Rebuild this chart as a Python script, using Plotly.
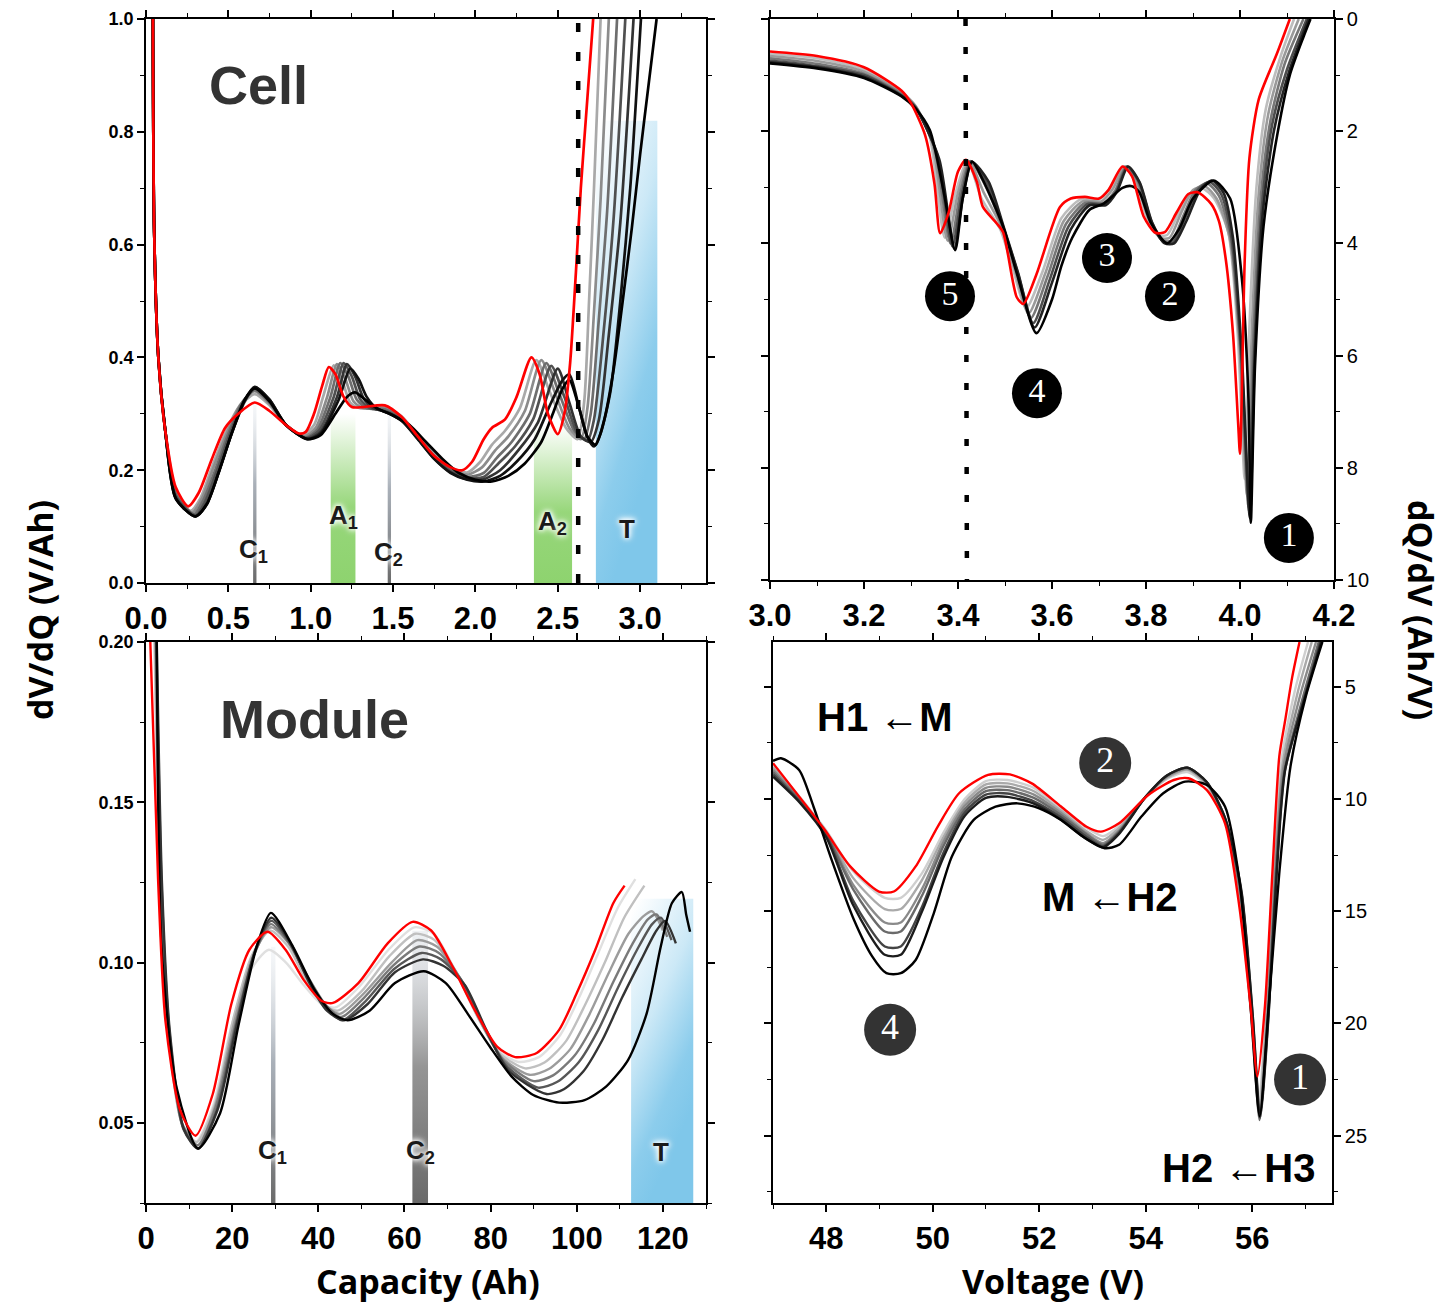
import base64
import plotly.graph_objects as go

W, H = 1445, 1304

# ---------------- Cell: dV/dQ vs capacity (Ah) ----------------
cell_cap_0 = [0.042, 0.05, 0.075, 0.117, 0.18, 0.256, 0.32, 0.4, 0.48, 0.56, 0.66, 0.75, 0.85, 0.93, 0.97, 1.02, 1.07, 1.11, 1.15, 1.2, 1.25, 1.32, 1.45, 1.55, 1.65, 1.75, 1.85, 1.92, 1.98, 2.05, 2.1, 2.18, 2.25, 2.34, 2.39, 2.44, 2.5, 2.54, 2.575, 2.61, 2.64, 2.68, 2.715]
cell_dvdq_0 = [1.0, 0.62, 0.4, 0.27, 0.17, 0.136, 0.16, 0.22, 0.275, 0.3, 0.32, 0.305, 0.28, 0.265, 0.268, 0.3, 0.35, 0.383, 0.37, 0.33, 0.312, 0.312, 0.315, 0.295, 0.26, 0.225, 0.205, 0.2, 0.215, 0.255, 0.275, 0.29, 0.33, 0.40, 0.37, 0.3, 0.264, 0.3, 0.39, 0.55, 0.70, 0.86, 1.0]
cell_cap_1 = [0.042, 0.05, 0.075, 0.117, 0.18, 0.27, 0.33, 0.4, 0.48, 0.56, 0.66, 0.75, 0.85, 0.95, 1.02, 1.08, 1.14, 1.19, 1.24, 1.3, 1.45, 1.55, 1.65, 1.75, 1.85, 1.95, 2.03, 2.1, 2.18, 2.27, 2.37, 2.45, 2.55, 2.62, 2.66, 2.69, 2.72, 2.76]
cell_dvdq_1 = [1.0, 0.62, 0.4, 0.27, 0.165, 0.128, 0.15, 0.205, 0.265, 0.31, 0.335, 0.315, 0.28, 0.262, 0.28, 0.335, 0.386, 0.36, 0.32, 0.31, 0.312, 0.296, 0.262, 0.228, 0.205, 0.196, 0.215, 0.245, 0.27, 0.31, 0.395, 0.34, 0.275, 0.255, 0.32, 0.5, 0.7, 1.0]
cell_cap_2 = [0.042, 0.05, 0.075, 0.117, 0.18, 0.28, 0.34, 0.41, 0.49, 0.57, 0.66, 0.75, 0.85, 0.96, 1.03, 1.1, 1.16, 1.21, 1.26, 1.32, 1.45, 1.55, 1.65, 1.75, 1.85, 1.95, 2.04, 2.12, 2.2, 2.3, 2.4, 2.48, 2.57, 2.64, 2.68, 2.72, 2.76, 2.81]
cell_dvdq_2 = [1.0, 0.62, 0.4, 0.27, 0.16, 0.125, 0.15, 0.205, 0.265, 0.315, 0.34, 0.318, 0.28, 0.26, 0.275, 0.33, 0.388, 0.362, 0.322, 0.31, 0.31, 0.294, 0.26, 0.226, 0.203, 0.192, 0.205, 0.235, 0.26, 0.305, 0.395, 0.34, 0.275, 0.255, 0.31, 0.48, 0.68, 1.0]
cell_cap_3 = [0.042, 0.05, 0.075, 0.117, 0.18, 0.29, 0.35, 0.42, 0.5, 0.58, 0.66, 0.75, 0.85, 0.97, 1.04, 1.12, 1.18, 1.23, 1.28, 1.34, 1.45, 1.55, 1.65, 1.75, 1.85, 1.95, 2.05, 2.13, 2.22, 2.33, 2.43, 2.51, 2.6, 2.66, 2.7, 2.75, 2.8, 2.86]
cell_dvdq_3 = [1.0, 0.62, 0.4, 0.27, 0.158, 0.122, 0.148, 0.2, 0.265, 0.318, 0.342, 0.32, 0.28, 0.258, 0.272, 0.33, 0.39, 0.365, 0.325, 0.31, 0.308, 0.292, 0.258, 0.224, 0.2, 0.188, 0.195, 0.222, 0.25, 0.3, 0.39, 0.335, 0.27, 0.255, 0.3, 0.47, 0.66, 1.0]
cell_cap_4 = [0.042, 0.05, 0.075, 0.117, 0.18, 0.3, 0.36, 0.43, 0.51, 0.59, 0.66, 0.75, 0.85, 0.97, 1.05, 1.14, 1.2, 1.25, 1.3, 1.36, 1.45, 1.55, 1.65, 1.75, 1.85, 1.95, 2.05, 2.14, 2.24, 2.35, 2.46, 2.54, 2.62, 2.68, 2.72, 2.78, 2.84, 2.91]
cell_dvdq_4 = [1.0, 0.62, 0.4, 0.27, 0.155, 0.12, 0.145, 0.198, 0.265, 0.32, 0.345, 0.322, 0.28, 0.257, 0.27, 0.33, 0.39, 0.366, 0.326, 0.31, 0.305, 0.29, 0.257, 0.222, 0.198, 0.186, 0.188, 0.212, 0.242, 0.29, 0.385, 0.33, 0.265, 0.252, 0.29, 0.45, 0.65, 1.0]
cell_cap_5 = [0.042, 0.05, 0.075, 0.117, 0.18, 0.3, 0.37, 0.44, 0.52, 0.6, 0.66, 0.75, 0.85, 0.98, 1.06, 1.16, 1.22, 1.27, 1.32, 1.38, 1.46, 1.55, 1.65, 1.75, 1.85, 1.95, 2.05, 2.15, 2.26, 2.38, 2.5, 2.57, 2.64, 2.7, 2.75, 2.81, 2.88, 2.96]
cell_dvdq_5 = [1.0, 0.62, 0.4, 0.27, 0.152, 0.118, 0.142, 0.195, 0.265, 0.322, 0.347, 0.325, 0.28, 0.256, 0.268, 0.33, 0.388, 0.366, 0.328, 0.31, 0.303, 0.288, 0.256, 0.22, 0.196, 0.184, 0.184, 0.2, 0.235, 0.285, 0.38, 0.32, 0.26, 0.25, 0.29, 0.44, 0.64, 1.0]
cell_cap_6 = [0.042, 0.05, 0.075, 0.117, 0.18, 0.3, 0.37, 0.44, 0.52, 0.6, 0.66, 0.75, 0.85, 0.98, 1.06, 1.17, 1.24, 1.29, 1.34, 1.4, 1.48, 1.56, 1.65, 1.75, 1.85, 1.95, 2.05, 2.15, 2.25, 2.36, 2.46, 2.53, 2.57, 2.63, 2.68, 2.72, 2.76, 2.82, 2.88, 2.94, 3.005]
cell_dvdq_6 = [1.0, 0.62, 0.4, 0.27, 0.15, 0.118, 0.14, 0.195, 0.265, 0.325, 0.348, 0.325, 0.28, 0.255, 0.265, 0.325, 0.38, 0.362, 0.33, 0.31, 0.3, 0.286, 0.255, 0.22, 0.195, 0.183, 0.18, 0.19, 0.215, 0.255, 0.32, 0.36, 0.37, 0.31, 0.258, 0.242, 0.265, 0.34, 0.5, 0.7, 1.0]
cell_cap_7 = [0.042, 0.05, 0.075, 0.117, 0.18, 0.3, 0.37, 0.44, 0.52, 0.6, 0.66, 0.75, 0.85, 0.98, 1.06, 1.15, 1.22, 1.27, 1.33, 1.4, 1.5, 1.6, 1.7, 1.8, 1.9, 2.0, 2.1, 2.2, 2.3, 2.4, 2.47, 2.53, 2.57, 2.63, 2.68, 2.73, 2.78, 2.84, 2.89, 2.95, 3.0, 3.05, 3.10]
cell_dvdq_7 = [1.0, 0.62, 0.4, 0.27, 0.15, 0.118, 0.14, 0.195, 0.265, 0.325, 0.345, 0.322, 0.28, 0.255, 0.262, 0.3, 0.33, 0.338, 0.325, 0.31, 0.297, 0.28, 0.25, 0.22, 0.195, 0.183, 0.18, 0.19, 0.212, 0.25, 0.3, 0.345, 0.36, 0.31, 0.26, 0.245, 0.287, 0.38, 0.49, 0.63, 0.76, 0.88, 1.0]

# ---------------- Cell: dQ/dV vs voltage (V) ----------------
cell_volt_0 = [3.0, 3.1, 3.2, 3.28, 3.3, 3.33, 3.35, 3.362, 3.38, 3.40, 3.417, 3.44, 3.453, 3.482, 3.496, 3.525, 3.539, 3.567, 3.617, 3.64, 3.67, 3.70, 3.72, 3.75, 3.77, 3.795, 3.82, 3.84, 3.865, 3.89, 3.91, 3.939, 3.955, 3.97, 3.985, 3.996, 4.0, 4.01, 4.02, 4.04, 4.078, 4.106]
cell_dqdv_0 = [0.58, 0.66, 0.86, 1.28, 1.5, 2.07, 2.94, 3.82, 3.45, 2.72, 2.51, 2.9, 3.35, 3.64, 3.8, 4.96, 5.08, 4.55, 3.35, 3.2, 3.17, 3.2, 3.05, 2.63, 2.8, 3.52, 3.81, 3.8, 3.45, 3.12, 3.09, 3.3, 3.6, 4.3, 5.6, 7.2, 7.75, 4.31, 2.48, 1.43, 0.63, 0.0]
cell_volt_1 = [3.0, 3.1, 3.2, 3.28, 3.31, 3.34, 3.372, 3.395, 3.42, 3.45, 3.49, 3.515, 3.545, 3.58, 3.62, 3.66, 3.70, 3.725, 3.752, 3.775, 3.80, 3.825, 3.845, 3.87, 3.895, 3.92, 3.945, 3.975, 3.995, 4.01, 4.02, 4.035, 4.055, 4.085, 4.115]
cell_dqdv_1 = [0.62, 0.7, 0.9, 1.3, 1.55, 2.1, 3.9, 3.1, 2.52, 3.2, 3.75, 4.4, 5.15, 4.5, 3.55, 3.22, 3.22, 3.0, 2.63, 2.85, 3.5, 3.85, 3.85, 3.45, 3.1, 3.02, 3.2, 3.8, 5.6, 8.2, 5.5, 3.0, 1.6, 0.7, 0.0]
cell_volt_2 = [3.0, 3.1, 3.2, 3.28, 3.31, 3.345, 3.378, 3.40, 3.423, 3.455, 3.492, 3.52, 3.55, 3.585, 3.625, 3.665, 3.705, 3.73, 3.755, 3.778, 3.805, 3.83, 3.85, 3.875, 3.9, 3.925, 3.95, 3.978, 3.998, 4.015, 4.025, 4.04, 4.06, 4.09, 4.125]
cell_dqdv_2 = [0.66, 0.75, 0.94, 1.32, 1.56, 2.2, 3.95, 3.1, 2.53, 3.1, 3.7, 4.45, 5.25, 4.55, 3.6, 3.25, 3.25, 3.02, 2.63, 2.86, 3.55, 3.9, 3.9, 3.45, 3.05, 2.98, 3.2, 3.9, 5.7, 8.5, 5.6, 3.1, 1.7, 0.75, 0.0]
cell_volt_3 = [3.0, 3.1, 3.2, 3.28, 3.31, 3.35, 3.384, 3.405, 3.426, 3.46, 3.494, 3.525, 3.555, 3.59, 3.63, 3.67, 3.71, 3.735, 3.758, 3.782, 3.81, 3.835, 3.855, 3.88, 3.905, 3.93, 3.955, 3.98, 4.0, 4.018, 4.028, 4.044, 4.065, 4.095, 4.135]
cell_dqdv_3 = [0.7, 0.8, 0.98, 1.34, 1.57, 2.3, 4.0, 3.1, 2.53, 3.0, 3.7, 4.5, 5.33, 4.6, 3.65, 3.28, 3.28, 3.05, 2.63, 2.88, 3.6, 3.95, 3.95, 3.5, 3.05, 2.93, 3.15, 3.9, 5.8, 8.7, 5.8, 3.2, 1.8, 0.8, 0.0]
cell_volt_4 = [3.0, 3.1, 3.2, 3.28, 3.31, 3.355, 3.388, 3.408, 3.428, 3.463, 3.496, 3.527, 3.56, 3.595, 3.635, 3.675, 3.712, 3.737, 3.76, 3.785, 3.812, 3.838, 3.858, 3.883, 3.91, 3.935, 3.96, 3.982, 4.002, 4.02, 4.03, 4.046, 4.068, 4.1, 4.142]
cell_dqdv_4 = [0.74, 0.84, 1.0, 1.36, 1.58, 2.4, 4.05, 3.15, 2.54, 2.95, 3.7, 4.52, 5.42, 4.65, 3.7, 3.3, 3.3, 3.07, 2.63, 2.9, 3.62, 3.98, 3.98, 3.55, 3.05, 2.9, 3.12, 3.9, 5.9, 8.8, 6.0, 3.4, 1.9, 0.9, 0.0]
cell_volt_5 = [3.0, 3.1, 3.2, 3.28, 3.31, 3.36, 3.392, 3.41, 3.43, 3.465, 3.497, 3.528, 3.563, 3.6, 3.64, 3.68, 3.714, 3.738, 3.762, 3.787, 3.813, 3.84, 3.86, 3.886, 3.915, 3.94, 3.965, 3.985, 4.004, 4.021, 4.031, 4.048, 4.072, 4.104, 4.146]
cell_dqdv_5 = [0.77, 0.86, 1.03, 1.37, 1.59, 2.5, 4.1, 3.2, 2.55, 2.9, 3.7, 4.53, 5.5, 4.7, 3.75, 3.32, 3.32, 3.08, 2.63, 2.92, 3.63, 4.0, 4.0, 3.6, 3.05, 2.88, 3.1, 3.9, 6.0, 8.9, 6.1, 3.5, 2.0, 0.95, 0.0]
cell_volt_6 = [3.0, 3.1, 3.2, 3.28, 3.31, 3.34, 3.37, 3.394, 3.41, 3.43, 3.453, 3.496, 3.525, 3.567, 3.6, 3.62, 3.643, 3.68, 3.71, 3.75, 3.77, 3.786, 3.81, 3.845, 3.87, 3.9, 3.944, 3.979, 4.004, 4.018, 4.023, 4.032, 4.05, 4.08, 4.106, 4.135, 4.15]
cell_dqdv_6 = [0.79, 0.88, 1.05, 1.38, 1.6, 1.98, 3.1, 4.12, 3.2, 2.54, 2.87, 3.7, 4.53, 5.6, 5.0, 4.4, 3.9, 3.4, 3.29, 3.01, 2.98, 3.09, 3.63, 4.0, 3.75, 3.2, 2.88, 3.2, 4.63, 6.77, 8.98, 6.17, 3.7, 2.03, 1.0, 0.32, 0.0]

# ---------------- Module: dV/dQ vs capacity (Ah) ----------------
mod_cap_0 = [1.0, 2.8, 4.5, 7.9, 11.5, 15.5, 19.8, 24.0, 28.2, 32.4, 36.6, 40.8, 43.4, 49.3, 56.1, 61.9, 66.2, 71.2, 76.4, 81.5, 85.7, 90.7, 95.9, 100, 104.3, 108.5, 111.1]
mod_dvdq_0 = [0.2, 0.126, 0.082, 0.054, 0.046, 0.059, 0.087, 0.104, 0.1096, 0.104, 0.0946, 0.088, 0.0874, 0.0936, 0.106, 0.1127, 0.110, 0.0987, 0.085, 0.0738, 0.0705, 0.0718, 0.079, 0.0905, 0.104, 0.1186, 0.124]
mod_cap_1 = [2.0, 3.2, 5.0, 8.3, 11.5, 15.5, 19.8, 24.0, 28.5, 32.5, 36.6, 40.8, 44.0, 49.5, 56.3, 62.3, 66.8, 71.6, 76.6, 81.6, 86.5, 91.2, 96.2, 100.5, 105, 109.5, 113.6]
mod_dvdq_1 = [0.2, 0.125, 0.08, 0.05, 0.044, 0.055, 0.08, 0.097, 0.104, 0.1, 0.093, 0.087, 0.086, 0.0925, 0.104, 0.111, 0.109, 0.098, 0.084, 0.0728, 0.069, 0.0705, 0.0775, 0.089, 0.103, 0.117, 0.126]
mod_cap_2 = [2.0, 3.2, 5.0, 8.3, 11.8, 16, 20.2, 24.5, 28.8, 33, 37, 41, 44.5, 50, 56.5, 62.5, 67, 72, 77, 82, 88, 92.5, 97.5, 102, 106.5, 111, 115.7]
mod_dvdq_2 = [0.2, 0.125, 0.08, 0.05, 0.044, 0.056, 0.082, 0.102, 0.11, 0.105, 0.095, 0.087, 0.085, 0.091, 0.102, 0.109, 0.107, 0.097, 0.083, 0.0718, 0.067, 0.0688, 0.0755, 0.087, 0.1, 0.114, 0.124]
mod_cap_3 = [2.2, 3.4, 5.2, 8.5, 12, 16, 20.4, 24.8, 29, 33.2, 37.2, 41.4, 45, 50.3, 57, 63, 67.5, 72.5, 77.5, 82.5, 89, 93.5, 98.5, 103, 107.5, 112, 115.5, 117.5, 120]
mod_dvdq_3 = [0.2, 0.125, 0.079, 0.049, 0.043, 0.055, 0.081, 0.102, 0.111, 0.106, 0.096, 0.087, 0.084, 0.09, 0.1, 0.107, 0.105, 0.096, 0.082, 0.0705, 0.065, 0.0668, 0.073, 0.084, 0.097, 0.109, 0.1145, 0.116, 0.11]
mod_cap_4 = [2.3, 3.5, 5.3, 8.6, 12, 16.2, 20.6, 25, 29, 33.2, 37.4, 41.6, 45.3, 50.6, 57.3, 63.5, 68, 73, 78, 83, 90, 94.5, 99.5, 104, 108.5, 113, 116.5, 118.5, 121]
mod_dvdq_4 = [0.2, 0.125, 0.079, 0.049, 0.043, 0.055, 0.08, 0.102, 0.112, 0.106, 0.096, 0.087, 0.083, 0.089, 0.099, 0.105, 0.103, 0.095, 0.081, 0.0695, 0.063, 0.0648, 0.071, 0.081, 0.094, 0.106, 0.1135, 0.115, 0.108]
mod_cap_5 = [2.4, 3.6, 5.4, 8.7, 12.1, 16.4, 20.8, 25.2, 29.1, 33.4, 37.6, 41.8, 45.6, 51, 57.6, 64, 68.5, 73.5, 78.5, 83.5, 91, 95.5, 100.5, 105, 109.5, 114, 117.5, 119.5, 122]
mod_dvdq_5 = [0.2, 0.125, 0.079, 0.048, 0.042, 0.054, 0.08, 0.103, 0.113, 0.106, 0.095, 0.086, 0.082, 0.088, 0.098, 0.103, 0.101, 0.094, 0.08, 0.068, 0.061, 0.0628, 0.069, 0.079, 0.092, 0.104, 0.112, 0.114, 0.107]
mod_cap_6 = [2.5, 3.7, 5.5, 8.8, 12.1, 16.6, 21, 25.4, 29.1, 33.6, 37.8, 42, 46, 51.4, 57.8, 64.3, 69, 74, 79, 84, 93, 97, 101.5, 106, 110.5, 115, 118.5, 120.5, 123]
mod_dvdq_6 = [0.2, 0.125, 0.079, 0.048, 0.042, 0.054, 0.08, 0.104, 0.114, 0.106, 0.094, 0.085, 0.082, 0.087, 0.097, 0.101, 0.099, 0.093, 0.079, 0.0665, 0.059, 0.0605, 0.066, 0.076, 0.089, 0.101, 0.11, 0.113, 0.106]
mod_cap_7 = [2.5, 3.7, 7.1, 12.1, 17.2, 21.4, 25.7, 29.0, 34.1, 39.2, 43.4, 46.8, 51.9, 57.8, 64.5, 69.6, 74.7, 79.8, 84.9, 89.9, 95.9, 101.8, 106.8, 111.9, 116.2, 119.5, 122.1, 124.4, 125.4, 126.3]
mod_dvdq_7 = [0.2, 0.103, 0.061, 0.042, 0.053, 0.080, 0.105, 0.1155, 0.105, 0.0914, 0.084, 0.082, 0.085, 0.0936, 0.0973, 0.0936, 0.084, 0.0738, 0.0644, 0.0587, 0.0563, 0.0571, 0.0613, 0.0696, 0.084, 0.105, 0.1186, 0.122, 0.115, 0.1096]

# ---------------- Module: dQ/dV vs voltage (V) ----------------
mod_volt_0 = [47.0, 47.97, 48.45, 48.99, 49.27, 49.68, 50.1, 50.5, 51.04, 51.45, 51.86, 52.41, 52.89, 53.16, 53.5, 54.05, 54.53, 54.8, 55.15, 55.49, 55.76, 55.97, 56.1, 56.24, 56.38, 56.51, 56.62, 56.75, 56.89]
mod_dqdv_0 = [8.4, 11.37, 13.0, 14.12, 14.12, 13.0, 11.2, 9.73, 8.92, 8.9, 9.3, 10.33, 11.23, 11.45, 11.08, 9.82, 9.15, 9.07, 9.6, 11.08, 14.8, 19.24, 22.36, 19.24, 13.3, 8.1, 6.5, 4.6, 3.0]
mod_volt_1 = [47.0, 47.5, 48.0, 48.5, 49.1, 49.4, 49.8, 50.2, 50.6, 51.0, 51.4, 51.9, 52.4, 52.9, 53.2, 53.5, 54.0, 54.4, 54.78, 55.15, 55.5, 55.77, 55.98, 56.12, 56.27, 56.4, 56.55, 56.8, 57.05]
mod_dqdv_1 = [8.5, 9.9, 11.4, 13.2, 14.4, 14.4, 13.3, 11.5, 10.0, 9.2, 9.15, 9.5, 10.4, 11.3, 11.65, 11.2, 9.9, 9.1, 8.8, 9.4, 11.0, 14.6, 19.6, 23.5, 19.0, 13.0, 8.3, 5.2, 3.0]
mod_volt_2 = [47.0, 47.5, 48.0, 48.5, 49.1, 49.4, 49.8, 50.2, 50.6, 51.0, 51.4, 51.9, 52.4, 52.9, 53.2, 53.5, 54.0, 54.4, 54.78, 55.15, 55.5, 55.78, 55.99, 56.13, 56.28, 56.42, 56.57, 56.85, 57.12]
mod_dqdv_2 = [8.6, 9.95, 11.45, 13.5, 14.9, 14.9, 13.6, 11.7, 10.15, 9.35, 9.3, 9.65, 10.5, 11.45, 11.82, 11.3, 9.9, 9.05, 8.7, 9.35, 11.0, 14.6, 19.7, 23.8, 19.2, 13.2, 8.5, 5.3, 3.0]
mod_volt_3 = [47.0, 47.5, 48.0, 48.5, 49.1, 49.4, 49.8, 50.2, 50.6, 51.0, 51.4, 51.9, 52.4, 52.9, 53.2, 53.5, 54.0, 54.4, 54.78, 55.15, 55.5, 55.79, 56.0, 56.14, 56.29, 56.43, 56.58, 56.9, 57.2]
mod_dqdv_3 = [8.7, 10.0, 11.5, 13.8, 15.5, 15.5, 14.0, 11.9, 10.3, 9.5, 9.45, 9.8, 10.6, 11.55, 11.97, 11.4, 9.9, 9.0, 8.65, 9.3, 11.0, 14.5, 19.8, 24.1, 19.5, 13.4, 8.7, 5.4, 3.0]
mod_volt_4 = [47.0, 47.5, 48.0, 48.5, 49.1, 49.4, 49.8, 50.2, 50.6, 51.0, 51.4, 51.9, 52.4, 52.9, 53.2, 53.5, 54.0, 54.4, 54.78, 55.15, 55.5, 55.8, 56.0, 56.14, 56.3, 56.44, 56.6, 56.95, 57.25]
mod_dqdv_4 = [8.8, 10.05, 11.55, 14.0, 15.9, 15.9, 14.3, 12.1, 10.45, 9.65, 9.6, 9.95, 10.7, 11.6, 12.04, 11.45, 9.9, 8.95, 8.6, 9.25, 11.0, 14.4, 19.8, 24.3, 19.6, 13.5, 8.8, 5.5, 3.0]
mod_volt_5 = [47.0, 47.5, 48.0, 48.5, 49.1, 49.4, 49.8, 50.2, 50.6, 51.0, 51.4, 51.9, 52.4, 52.9, 53.2, 53.5, 54.0, 54.4, 54.78, 55.15, 55.5, 55.8, 56.01, 56.15, 56.31, 56.45, 56.61, 56.98, 57.28]
mod_dqdv_5 = [8.9, 10.1, 11.6, 14.5, 16.57, 16.57, 14.8, 12.4, 10.6, 9.8, 9.75, 10.1, 10.8, 11.7, 12.1, 11.5, 9.9, 8.95, 8.6, 9.25, 10.9, 14.2, 19.7, 24.2, 19.6, 13.5, 8.8, 5.5, 3.0]
mod_volt_6 = [47.0, 47.5, 48.0, 48.5, 49.1, 49.4, 49.8, 50.2, 50.6, 51.0, 51.4, 51.9, 52.4, 52.9, 53.2, 53.5, 54.0, 54.4, 54.78, 55.15, 55.5, 55.8, 56.01, 56.15, 56.31, 56.46, 56.62, 57.0, 57.3]
mod_dqdv_6 = [9.0, 10.15, 11.7, 14.7, 16.94, 16.94, 15.0, 12.6, 10.75, 9.95, 9.9, 10.2, 10.9, 11.8, 12.15, 11.55, 9.9, 8.95, 8.6, 9.25, 10.9, 14.1, 19.6, 24.0, 19.5, 13.4, 8.7, 5.4, 3.0]
mod_volt_7 = [47.0, 47.15, 47.49, 47.76, 48.1, 48.52, 48.86, 49.13, 49.4, 49.68, 50.02, 50.36, 50.77, 51.18, 51.59, 52.0, 52.41, 52.82, 53.23, 53.5, 53.92, 54.33, 54.74, 55.15, 55.49, 55.76, 55.97, 56.14, 56.31, 56.51, 56.72, 57.0, 57.32]
mod_dqdv_7 = [8.3, 8.18, 8.7, 10.33, 12.7, 15.38, 17.0, 17.76, 17.76, 17.17, 15.09, 12.56, 10.93, 10.34, 10.19, 10.41, 10.93, 11.67, 12.19, 12.04, 10.78, 9.74, 9.22, 9.37, 10.33, 13.6, 19.24, 24.14, 19.24, 13.3, 8.55, 5.5, 3.0]

# cycle colours: index 0 is the first cycle (red), the rest fade from grey to black
cell_dvdq_colors = ["#ff0000", "#a9a9a9", "#8c8c8c", "#6e6e6e", "#505050", "#333333", "#111111", "#000000"]
cell_dqdv_colors = ["#ff0000", "#bdbdbd", "#9a9a9a", "#777777", "#4d4d4d", "#222222", "#000000"]
mod_dvdq_colors = ["#ff0000", "#e0e0e0", "#c0c0c0", "#9c9c9c", "#7a7a7a", "#575757", "#333333", "#000000"]
mod_dqdv_colors = ["#ff0000", "#cfcfcf", "#aaaaaa", "#8a8a8a", "#6a6a6a", "#444444", "#1c1c1c", "#000000"]

# peak markers
cell_peak_labels = ["5", "4", "3", "2", "1"]
cell_peak_volt = [3.383, 3.568, 3.717, 3.851, 4.104]
cell_peak_dqdv = [4.94, 6.67, 4.26, 4.94, 9.25]
mod_peak_labels = ["2", "4", "1"]
mod_peak_volt = [53.24, 49.2, 56.9]
mod_peak_dqdv = [8.39, 20.28, 22.5]

SANS = "Liberation Sans, Arial, sans-serif"
TITLE = "Open Sans, Liberation Sans, sans-serif"
SERIF = "Liberation Serif, DejaVu Serif, serif"
HALO = "0px 0px 4px #ffffff, 0px 0px 6px #ffffff, 0px 0px 8px #ffffff"


def xdom(a, b):
    return [a / W, b / W]


def ydom(a, b):
    return [1 - b / H, 1 - a / H]


def curves(fig, xs, ys, colors, xa, ya, width):
    # draw the later cycles first so the red first cycle sits on top
    order = list(range(1, len(xs))) + [0]
    for i in order:
        fig.add_trace(go.Scatter(
            x=xs[i], y=ys[i], mode="lines", xaxis=xa, yaxis=ya,
            line=dict(color=colors[i], width=width, shape="spline", smoothing=0.7),
            hoverinfo="skip", showlegend=False))


def grad(stops, x1=0, y1=1, x2=0, y2=0):
    st = "".join(
        f'<stop offset="{o}" stop-color="{c}" stop-opacity="{a}"/>' for o, c, a in stops)
    svg = ('<svg xmlns="http://www.w3.org/2000/svg" width="100" height="100" '
           'viewBox="0 0 100 100" preserveAspectRatio="none"><defs>'
           f'<linearGradient id="g" x1="{x1}" y1="{y1}" x2="{x2}" y2="{y2}">{st}</linearGradient>'
           '</defs><rect width="100" height="100" fill="url(#g)"/></svg>')
    return "data:image/svg+xml;base64," + base64.b64encode(svg.encode()).decode()


def band(xref, yref, x0, x1, y0, y1, src):
    return dict(source=src, xref=xref, yref=yref, x=x0, y=y1, sizex=x1 - x0,
                sizey=y1 - y0, sizing="stretch", xanchor="left", yanchor="top",
                layer="below")


GREEN = "#8ed36f"
BLUE = "#7fc7ea"
green_src = grad([(0, GREEN, 1), (0.45, GREEN, 0.92), (1, GREEN, 0)])
blue_src = grad([(0, BLUE, 0), (0.45, BLUE, 0.4), (0.8, BLUE, 0.9), (1, BLUE, 1)],
                x1=0.1, y1=0, x2=0.5, y2=0.9)
cline_src = grad([(0, "#6a6a6a", 1), (0.55, "#9aa2ac", 0.85), (1, "#e3e9ef", 0.3)])
cband_src = grad([(0, "#6a6a6a", 1), (0.5, "#959595", 1), (1, "#dfe4ea", 0.5)])

fig = go.Figure()

curves(fig, [cell_cap_0, cell_cap_1, cell_cap_2, cell_cap_3, cell_cap_4, cell_cap_5, cell_cap_6, cell_cap_7],
       [cell_dvdq_0, cell_dvdq_1, cell_dvdq_2, cell_dvdq_3, cell_dvdq_4, cell_dvdq_5, cell_dvdq_6, cell_dvdq_7],
       cell_dvdq_colors, "x", "y", 2.7)
curves(fig, [cell_volt_0, cell_volt_1, cell_volt_2, cell_volt_3, cell_volt_4, cell_volt_5, cell_volt_6],
       [cell_dqdv_0, cell_dqdv_1, cell_dqdv_2, cell_dqdv_3, cell_dqdv_4, cell_dqdv_5, cell_dqdv_6],
       cell_dqdv_colors, "x2", "y2", 2.6)
curves(fig, [mod_cap_0, mod_cap_1, mod_cap_2, mod_cap_3, mod_cap_4, mod_cap_5, mod_cap_6, mod_cap_7],
       [mod_dvdq_0, mod_dvdq_1, mod_dvdq_2, mod_dvdq_3, mod_dvdq_4, mod_dvdq_5, mod_dvdq_6, mod_dvdq_7],
       mod_dvdq_colors, "x3", "y3", 2.4)
curves(fig, [mod_volt_0, mod_volt_1, mod_volt_2, mod_volt_3, mod_volt_4, mod_volt_5, mod_volt_6, mod_volt_7],
       [mod_dqdv_0, mod_dqdv_1, mod_dqdv_2, mod_dqdv_3, mod_dqdv_4, mod_dqdv_5, mod_dqdv_6, mod_dqdv_7],
       mod_dqdv_colors, "x4", "y4", 2.4)

# numbered peak markers
fig.add_trace(go.Scatter(
    x=cell_peak_volt, y=cell_peak_dqdv, xaxis="x2", yaxis="y2", mode="markers+text",
    text=cell_peak_labels, textposition="middle center",
    marker=dict(size=50, color="#000000"),
    textfont=dict(family=SERIF, size=34, color="white"),
    hoverinfo="skip", showlegend=False))
fig.add_trace(go.Scatter(
    x=mod_peak_volt, y=mod_peak_dqdv, xaxis="x4", yaxis="y4", mode="markers+text",
    text=mod_peak_labels, textposition="middle center",
    marker=dict(size=52, color="#333333"),
    textfont=dict(family=SERIF, size=36, color="white"),
    hoverinfo="skip", showlegend=False))


def axis(domain, anchor, rng, dtick, minor, font, **kw):
    d = dict(domain=domain, anchor=anchor, range=rng, dtick=dtick, automargin=False,
             showline=True, linecolor="black", linewidth=1.6, mirror="allticks",
             ticks="outside", ticklen=7, tickwidth=1.6, tickcolor="black",
             showgrid=False, zeroline=False, tickfont=font,
             minor=dict(dtick=minor, ticks="outside", ticklen=4, tickwidth=1.3,
                        tickcolor="black", showgrid=False))
    d.update(kw)
    return d


xfont = dict(family=SANS, size=31, color="black", weight="bold")
yfont_b = dict(family=SANS, size=18, color="black", weight="bold")
yfont_r = dict(family=SANS, size=20, color="black")

ann = []


def label(xr, yr, x, y, text, size=26, color="#1a1a1a", halo=True, family=SANS):
    f = dict(family=family, size=size, color=color, weight="bold")
    if halo:
        f["shadow"] = HALO
    ann.append(dict(xref=xr, yref=yr, x=x, y=y, text=text, showarrow=False, font=f,
                    xanchor="center", yanchor="middle"))


label("x", "y", 0.655, 0.057, "C<sub>1</sub>")
label("x", "y", 1.2, 0.118, "A<sub>1</sub>")
label("x", "y", 1.475, 0.053, "C<sub>2</sub>")
label("x", "y", 2.47, 0.107, "A<sub>2</sub>")
label("x", "y", 2.92, 0.096, "T")
label("x3", "y3", 29.3, 0.041, "C<sub>1</sub>")
label("x3", "y3", 63.8, 0.041, "C<sub>2</sub>")
label("x3", "y3", 119.5, 0.041, "T")
label("x", "y", 0.68, 0.883, "Cell", size=54, color="#333333", halo=False)
label("x3", "y3", 39.2, 0.176, "Module", size=54, color="#333333", halo=False)
label("x4", "y4", 49.1, 6.34, "H1 \u2190M", size=40, color="#000000", halo=False)
label("x4", "y4", 53.33, 14.36, "M \u2190H2", size=40, color="#000000", halo=False)
label("x4", "y4", 55.74, 26.43, "H2 \u2190H3", size=40, color="#000000", halo=False)

tfont = dict(family=TITLE, size=34, color="black", weight="bold")
ann += [
    dict(xref="paper", yref="paper", x=40 / W, y=1 - 610 / H, text="dV/dQ (V/Ah)",
         textangle=-90, showarrow=False, font=tfont, xanchor="center", yanchor="middle"),
    dict(xref="paper", yref="paper", x=1421 / W, y=1 - 610 / H, text="dQ/dV (Ah/V)",
         textangle=90, showarrow=False, font=tfont, xanchor="center", yanchor="middle"),
    dict(xref="paper", yref="paper", x=428 / W, y=1 - 1281 / H, text="Capacity (Ah)",
         showarrow=False, font=tfont, xanchor="center", yanchor="middle"),
    dict(xref="paper", yref="paper", x=1053 / W, y=1 - 1281 / H, text="Voltage (V)",
         showarrow=False, font=tfont, xanchor="center", yanchor="middle"),
]

images = [
    band("x", "y", 0.650, 0.672, 0.0, 0.32, cline_src),
    band("x", "y", 1.466, 1.488, 0.0, 0.305, cline_src),
    band("x", "y", 1.12, 1.273, 0.0, 0.30, green_src),
    band("x", "y", 2.354, 2.588, 0.0, 0.28, green_src),
    band("x", "y", 2.73, 3.106, 0.0, 0.82, blue_src),
    band("x3", "y3", 29.0, 30.1, 0.025, 0.105, cline_src),
    band("x3", "y3", 61.8, 65.5, 0.025, 0.11, cband_src),
    band("x3", "y3", 112.6, 127.1, 0.025, 0.12, blue_src),
]

shapes = [
    dict(type="line", xref="x", yref="y", x0=2.624, x1=2.624, y0=0, y1=1.0,
         line=dict(color="black", width=4.5, dash="9px,20px"), layer="above"),
    dict(type="line", xref="x2", yref="y2", x0=3.416, x1=3.419, y0=0, y1=10,
         line=dict(color="black", width=4.5, dash="7px,21px"), layer="above"),
]

fig.update_layout(
    width=W, height=H, margin=dict(l=0, r=0, t=0, b=0, autoexpand=False),
    paper_bgcolor="white", plot_bgcolor="rgba(0,0,0,0)",
    showlegend=False,
    xaxis=axis(xdom(146, 706), "y", [0, 3.4], 0.5, 0.25, xfont, tickformat=".1f"),
    yaxis=axis(ydom(19, 583), "x", [0, 1.0], 0.2, 0.1, yfont_b, tickformat=".1f"),
    xaxis2=axis(xdom(770, 1334), "y2", [3.0, 4.2], 0.2, 0.1, xfont, tickformat=".1f"),
    yaxis2=axis(ydom(19, 580), "x2", [10, 0], 2, 1, yfont_r, side="right"),
    xaxis3=axis(xdom(146, 706), "y3", [0, 130], 20, 10, xfont),
    yaxis3=axis(ydom(642, 1203), "x3", [0.025, 0.20], 0.05, 0.025, yfont_b,
                tick0=0, tickformat=".2f"),
    xaxis4=axis(xdom(773, 1332), "y4", [47, 57.5], 2, 1, xfont, tick0=0),
    yaxis4=axis(ydom(642, 1203), "x4", [28, 3], 5, 2.5, yfont_r, tick0=0, side="right"),
    annotations=ann, images=images, shapes=shapes,
)

fig.write_html("out.html")
